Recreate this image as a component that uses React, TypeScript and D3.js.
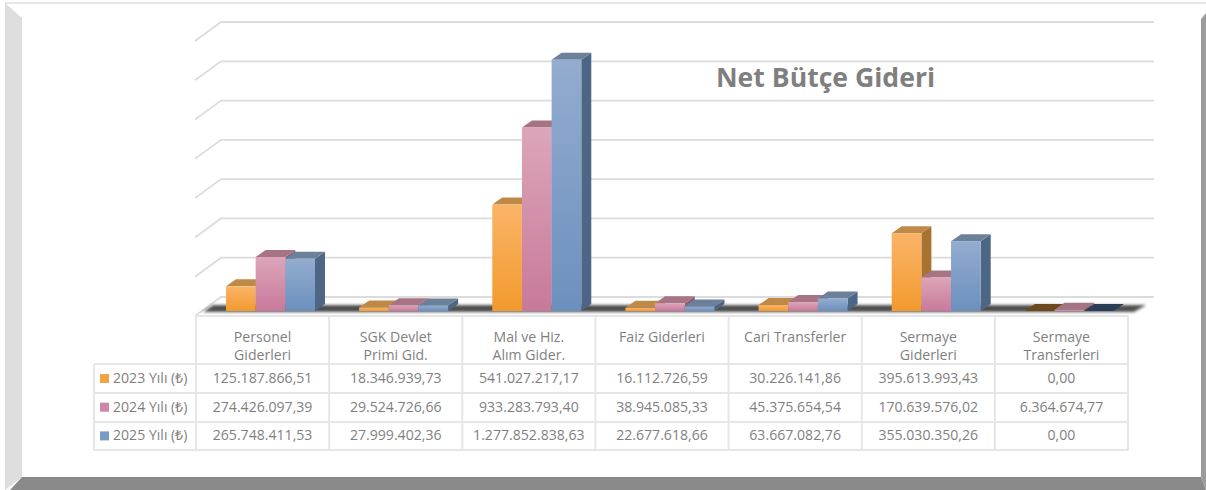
import React from 'react';
import * as d3 from 'd3';

const categories = [
  ['Personel', 'Giderleri'],
  ['SGK Devlet', 'Primi Gid.'],
  ['Mal ve Hiz.', 'Alım Gider.'],
  ['Faiz Giderleri'],
  ['Cari Transferler'],
  ['Sermaye', 'Giderleri'],
  ['Sermaye', 'Transferleri'],
];
const seriesNames = ['2023 Yılı (₺)', '2024 Yılı (₺)', '2025 Yılı (₺)'];
const values2023 = [125187866.51, 18346939.73, 541027217.17, 16112726.59, 30226141.86, 395613993.43, 0];
const values2024 = [274426097.39, 29524726.66, 933283793.4, 38945085.33, 45375654.54, 170639576.02, 6364674.77];
const values2025 = [265748411.53, 27999402.36, 1277852838.63, 22677618.66, 63667082.76, 355030350.26, 0];
const labels2023 = ['125.187.866,51', '18.346.939,73', '541.027.217,17', '16.112.726,59', '30.226.141,86', '395.613.993,43', '0,00'];
const labels2024 = ['274.426.097,39', '29.524.726,66', '933.283.793,40', '38.945.085,33', '45.375.654,54', '170.639.576,02', '6.364.674,77'];
const labels2025 = ['265.748.411,53', '27.999.402,36', '1.277.852.838,63', '22.677.618,66', '63.667.082,76', '355.030.350,26', '0,00'];
const gridTicks = [0, 200e6, 400e6, 600e6, 800e6, 1000e6, 1200e6, 1400e6];

const allValues = [values2023, values2024, values2025];
const allLabels = [labels2023, labels2024, labels2025];

const front = ['#f29a2e', '#c8799a', '#6c90be'];
const frontLight = ['#fab468', '#dca6b9', '#93accf'];
const topFace = ['#bf8a48', '#a67485', '#6b8099'];
const sideFace = ['#a8732e', '#8c5f72', '#4d6685'];
const zeroTop = ['#6b4a1e', '#a56f82', '#2a3f55'];

const W = 1206;
const H = 490;
const GREY = '#7f7f7f';
const LINE = '#e6e6e6';
const FONT = '"Open Sans", sans-serif';
const TEXT_SIZE = 14.1;

// perspective offsets
const depthX = 10;
const depthY = 7;
const wallX = 26;
const wallY = 19;

const tableLeft = 196;
const tableRight = 1128;
const legendLeft = 94;
const rowLines = [364, 393, 422, 450];

export default function App() {
  const names = categories.map((_, i) => String(i));
  const xCol = d3.scaleBand().domain(names).range([tableLeft, tableRight]);
  const xSeries = d3.scaleBand().domain(['0', '1', '2']).range([30, 119]);

  // front plane of the bars
  const y = d3.scaleLinear().domain([0, 1400e6]).range([311, 35.6]);
  // back wall of the chart
  const yBack = d3.scaleLinear().domain([0, 1400e6]).range([297, 22]);

  const poly = (pts: number[][]) => pts.map(p => p.join(',')).join(' ');

  return (
    <svg width={W} height={H} style={{ position: 'absolute', left: 0, top: 0, display: 'block' }} fontFamily={FONT}>
      <defs>
        {front.map((c, i) => (
          <linearGradient key={i} id={`bar${i}`} x1="0" y1="0" x2="0" y2="1">
            <stop offset="0" stopColor={frontLight[i]} />
            <stop offset="1" stopColor={c} />
          </linearGradient>
        ))}
        <filter id="soft" x="-5%" y="-100%" width="110%" height="300%">
          <feGaussianBlur stdDeviation="1.8" />
        </filter>
      </defs>

      {/* bevelled frame */}
      <rect x={0} y={0} width={W} height={H} fill="#fff" />
      <rect x={5} y={2} width={W - 5} height={2} fill={LINE} />
      <polygon points={poly([[5, 3], [22, 18], [22, 477], [5, 490]])} fill="#dedede" />
      <polygon points={poly([[1201, 19], [W, 13], [W, H], [1201, 477]])} fill="#9c9c9c" />
      <polygon points={poly([[22, 477], [1201, 477], [W, H], [10, H]])} fill="#8a8a8a" />

      {/* walls and floor */}
      {gridTicks.map(t => (
        <polyline
          key={t}
          points={poly([[tableLeft - 1, yBack(t) + wallY], [tableLeft - 1 + wallX, yBack(t)], [1154, yBack(t)]])}
          fill="none"
          stroke="#dcdcdc"
          strokeWidth={1.8}
        />
      ))}
      <polygon points={poly([[203, 312], [213, 305], [1146, 305], [1134, 312]])} fill="#222" opacity={0.8} filter="url(#soft)" />

      {/* bars */}
      {categories.map((_, c) =>
        [0, 1, 2].map(s => {
          const v = allValues[s][c];
          const x0 = xCol(String(c))! + xSeries(String(s))!;
          const x1 = x0 + xSeries.bandwidth();
          const yTop = y(v);
          const yBase = y(0);
          return (
            <g key={`${c}-${s}`}>
              {v > 0 && (
                <polygon
                  points={poly([[x1, yTop], [x1 + depthX, yTop - depthY], [x1 + depthX, yBase - depthY], [x1, yBase]])}
                  fill={sideFace[s]}
                />
              )}
              <polygon
                points={poly([[x0, yTop], [x0 + depthX, yTop - depthY], [x1 + depthX, yTop - depthY], [x1, yTop]])}
                fill={v > 0 ? topFace[s] : zeroTop[s]}
              />
              {v > 0 && <rect x={x0} y={yTop} width={x1 - x0} height={yBase - yTop} fill={`url(#bar${s})`} />}
            </g>
          );
        })
      )}

      {/* data table */}
      <g stroke={LINE} strokeWidth={2} fill="none">
        <line x1={tableLeft} y1={316} x2={tableRight} y2={316} />
        {rowLines.map(r => (
          <line key={r} x1={legendLeft} y1={r} x2={tableRight} y2={r} />
        ))}
        <line x1={legendLeft} y1={rowLines[0]} x2={legendLeft} y2={rowLines[3]} />
        {categories.map((_, i) => (
          <line key={i} x1={xCol(String(i))!} y1={316} x2={xCol(String(i))!} y2={rowLines[3]} />
        ))}
        <line x1={tableRight} y1={316} x2={tableRight} y2={rowLines[3]} />
      </g>

      <g fill={GREY} fontSize={TEXT_SIZE} textAnchor="middle">
        {categories.map((lines, i) =>
          lines.map((t, j) => (
            <text key={j + t} x={xCol(String(i))! + xCol.bandwidth() / 2} y={341.5 + j * 18.5}>
              {t}
            </text>
          ))
        )}
        {allLabels.map((row, s) =>
          row.map((t, i) => (
            <text key={i} x={xCol(String(i))! + xCol.bandwidth() / 2} y={383 + s * 28.7}>
              {t}
            </text>
          ))
        )}
      </g>

      {seriesNames.map((n, s) => (
        <g key={n}>
          <rect x={100} y={374 + s * 28.7} width={9} height={9} fill={front[s]} opacity={0.9} />
          <text x={113} y={383 + s * 28.7} fontSize={TEXT_SIZE} fill={GREY}>
            {n}
          </text>
        </g>
      ))}

      <text x={716} y={87} fontSize={26.6} fontWeight={700} fill={GREY}>
        Net Bütçe Gideri
      </text>
    </svg>
  );
}
